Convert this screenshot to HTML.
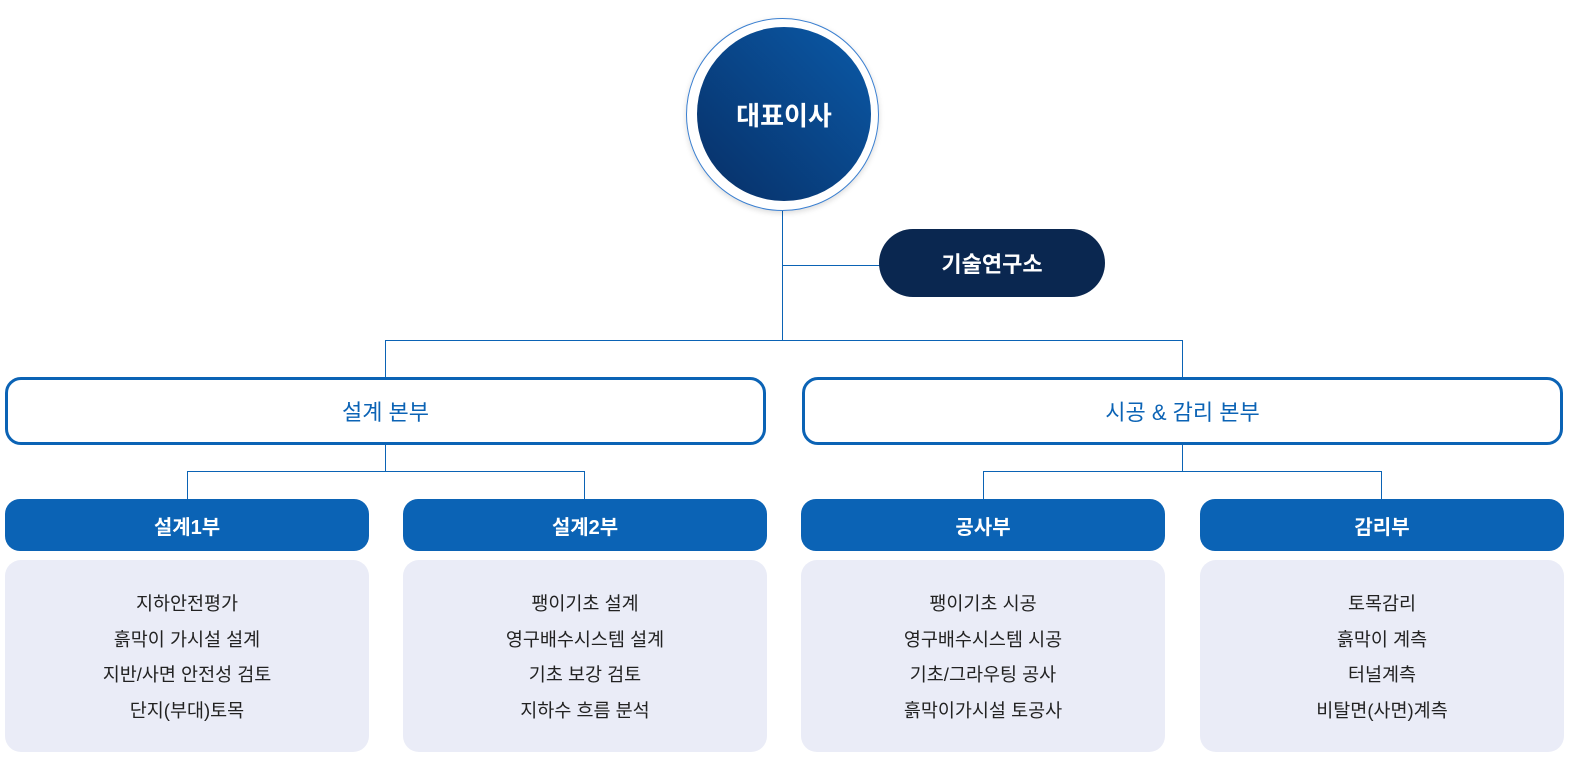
<!DOCTYPE html>
<html><head><meta charset="utf-8"><style>
body{margin:0;width:1576px;height:763px;background:#fff;position:relative;font-family:"Liberation Sans","Noto Sans CJK KR",sans-serif;overflow:hidden}
.a{position:absolute;box-sizing:border-box}
.l{position:absolute;background:#0b63b5}
.ring{left:686px;top:18px;width:193px;height:193px;border:1.5px solid #3a7fd0;border-radius:50%;box-shadow:0 2px 6px rgba(0,0,0,.15)}
.core{left:697px;top:27px;width:174px;height:174px;border-radius:50%;background:linear-gradient(225deg,#0b5aa8,#072f66);color:#fff;font-size:26px;font-weight:bold;display:flex;align-items:center;justify-content:center}
.pill{left:879px;top:229px;width:226px;height:68px;border-radius:34px;background:#0a2750;color:#fff;font-size:22px;font-weight:bold;display:flex;align-items:center;justify-content:center}
.hq{top:377px;width:761px;height:68px;border:3px solid #0b63b5;border-radius:16px;color:#0b63b5;font-size:22px;display:flex;align-items:center;justify-content:center;background:#fff}
.dh{top:499px;width:364px;height:52px;border-radius:15px;background:#0b63b5;color:#fff;font-size:20px;font-weight:bold;display:flex;align-items:center;justify-content:center}
.db{top:560px;width:364px;height:192px;border-radius:16px;background:#eaecf7;color:#222;font-size:18.5px;text-align:center;padding-top:26px;line-height:35.7px}
</style></head><body>
<div class="l" style="left:782px;top:210px;width:1px;height:131px"></div>
<div class="l" style="left:782px;top:265px;width:98px;height:1px"></div>
<div class="l" style="left:385px;top:340px;width:798px;height:1px"></div>
<div class="l" style="left:385px;top:340px;width:1px;height:38px"></div>
<div class="l" style="left:1182px;top:340px;width:1px;height:38px"></div>
<div class="l" style="left:385px;top:444px;width:1px;height:28px"></div>
<div class="l" style="left:187px;top:471px;width:398px;height:1px"></div>
<div class="l" style="left:187px;top:471px;width:1px;height:29px"></div>
<div class="l" style="left:584px;top:471px;width:1px;height:29px"></div>
<div class="l" style="left:1182px;top:444px;width:1px;height:28px"></div>
<div class="l" style="left:983px;top:471px;width:399px;height:1px"></div>
<div class="l" style="left:983px;top:471px;width:1px;height:29px"></div>
<div class="l" style="left:1381px;top:471px;width:1px;height:29px"></div>
<div class="a ring"></div>
<div class="a core">대표이사</div>
<div class="a pill">기술연구소</div>
<div class="a hq" style="left:5px">설계 본부</div>
<div class="a hq" style="left:802px">시공 &amp; 감리 본부</div>
<div class="a dh" style="left:5px">설계1부</div>
<div class="a dh" style="left:403px">설계2부</div>
<div class="a dh" style="left:801px">공사부</div>
<div class="a dh" style="left:1200px">감리부</div>
<div class="a db" style="left:5px">지하안전평가<br>흙막이 가시설 설계<br>지반/사면 안전성 검토<br>단지(부대)토목</div>
<div class="a db" style="left:403px">팽이기초 설계<br>영구배수시스템 설계<br>기초 보강 검토<br>지하수 흐름 분석</div>
<div class="a db" style="left:801px">팽이기초 시공<br>영구배수시스템 시공<br>기초/그라우팅 공사<br>흙막이가시설 토공사</div>
<div class="a db" style="left:1200px">토목감리<br>흙막이 계측<br>터널계측<br>비탈면(사면)계측</div>
</body></html>
